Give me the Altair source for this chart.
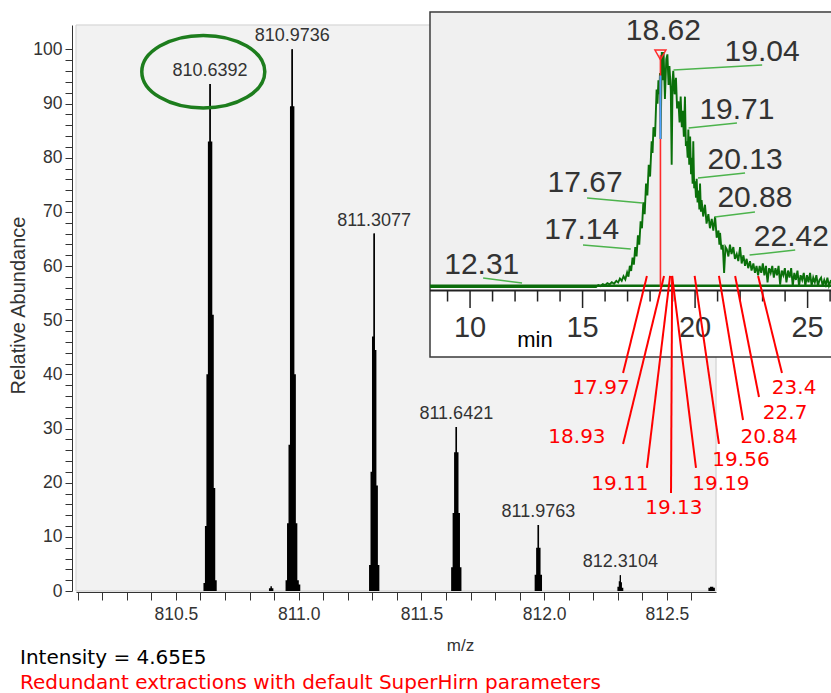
import altair as alt
import pandas as pd

# ---------------- main spectrum data ----------------
peak_mz = [810.6392, 810.9736, 811.3077, 811.6421, 811.9763, 812.3104]
peak_abundance = [93.6, 100.0, 66.0, 30.3, 12.2, 2.9]
peak_labels = ["810.6392", "810.9736", "811.3077", "811.6421", "811.9763", "812.3104"]

prof1_mz = [810.6092, 810.6152, 810.6212, 810.6272, 810.6332, 810.6392, 810.6452, 810.6512, 810.6572, 810.6632, 810.6692]
prof1_ab = [0, 1.5, 12.0, 40.0, 83.0, 93.6, 83.0, 51.0, 19.0, 2.0, 0]
prof2_mz = [810.9436, 810.9496, 810.9556, 810.9616, 810.9676, 810.9736, 810.9796, 810.9856, 810.9916, 810.9976, 811.0036, 811.0096]
prof2_ab = [0, 2.0, 12.5, 27.0, 89.5, 100.0, 89.5, 40.0, 12.5, 2.0, 1.2, 0]
prof3_mz = [811.2837, 811.2897, 811.2957, 811.3017, 811.3077, 811.3137, 811.3197, 811.3257, 811.3317]
prof3_ab = [0, 4.8, 22.0, 47.0, 66.0, 44.5, 19.5, 4.8, 0]
prof4_mz = [811.6181, 811.6241, 811.6301, 811.6361, 811.6421, 811.6481, 811.6541, 811.6601, 811.6661]
prof4_ab = [0, 4.4, 14.4, 25.6, 30.3, 25.6, 14.4, 4.4, 0]
prof5_mz = [811.9583, 811.9643, 811.9703, 811.9763, 811.9823, 811.9883, 811.9943]
prof5_ab = [0, 3.0, 8.0, 12.2, 8.0, 3.0, 0]
prof6_mz = [812.2954, 812.3014, 812.3064, 812.3104, 812.3144, 812.3194, 812.3254]
prof6_ab = [0, 0.8, 1.8, 2.9, 1.6, 0.6, 0]
prof7_mz = [810.876, 810.882, 810.888, 810.894, 810.900]
prof7_ab = [0, 0.5, 0.9, 0.5, 0]
prof8_mz = [812.666, 812.672, 812.679, 812.686, 812.692, 812.699]
prof8_ab = [0, 0.6, 0.8, 0.8, 0.6, 0]

x_tick_values = [810.1, 810.2, 810.3, 810.4, 810.5, 810.6, 810.7, 810.8, 810.9, 811.0,
                 811.1, 811.2, 811.3, 811.4, 811.5, 811.6, 811.7, 811.8, 811.9, 812.0,
                 812.1, 812.2, 812.3, 812.4, 812.5, 812.6]
y_tick_values = list(range(0, 101, 2))

# ---------------- inset chromatogram data ----------------
trace_rt = [8.22, 15.60, 15.70, 15.80, 15.90, 16.00, 16.10, 16.20, 16.30, 16.40, 16.50, 16.58, 16.66, 16.74,
            16.82, 16.90, 16.98, 17.04, 17.10, 17.16, 17.22, 17.28, 17.34, 17.40, 17.46, 17.52, 17.58,
            17.64, 17.70, 17.76, 17.82, 17.88, 17.94, 18.00, 18.07, 18.11, 18.15, 18.22, 18.29, 18.33,
            18.37, 18.41, 18.44, 18.47, 18.52, 18.56, 18.60, 18.66, 18.72, 18.77, 18.82, 18.86, 18.92,
            18.96, 19.00, 19.03, 19.09, 19.15, 19.20, 19.26, 19.31, 19.36, 19.41, 19.45, 19.50, 19.55,
            19.59, 19.63, 19.67, 19.70, 19.74, 19.78, 19.82, 19.85, 19.89, 19.92, 19.96, 20.00, 20.04,
            20.07, 20.11, 20.15, 20.19, 20.22, 20.26, 20.29, 20.36, 20.44, 20.51, 20.59, 20.66, 20.74,
            20.81, 20.89, 20.96, 21.04, 21.08, 21.11, 21.17, 21.23, 21.29, 21.35, 21.41, 21.48, 21.55,
            21.62, 21.70, 21.77, 21.85, 21.92, 22.00, 22.07, 22.15, 22.22, 22.29, 22.36, 22.44, 22.51,
            22.59, 22.66, 22.73, 22.80, 22.87, 22.94, 23.01, 23.08, 23.15, 23.22, 23.29, 23.36, 23.43,
            23.50, 23.57, 23.64, 23.71, 23.78, 23.85, 23.92, 23.99, 24.06, 24.13, 24.20, 24.27, 24.34,
            24.41, 24.48, 24.55, 24.62, 24.69, 24.76, 24.83, 24.90, 24.97, 25.04, 25.11, 25.18, 25.25,
            25.32, 25.39, 25.46, 25.53, 25.60, 25.67, 25.74, 25.81, 25.88, 25.95, 26.04]
trace_int = [0, 0, 0.8, 0.4, 1.2, 0.8, 1.6, 1.1, 2.0, 1.4, 2.6, 1.9, 3.6, 2.6,
             4.6, 3.2, 6.2, 4.4, 9.0, 6.8, 12.5, 9.5, 17, 13, 22, 18, 28,
             25, 36, 31, 44, 39, 52, 47, 62, 57, 68, 64, 84, 78,
             88, 82, 91, 63, 100, 88, 100, 80, 97, 99, 86, 94, 84,
             52, 88, 92, 82, 89, 76, 79, 70, 81, 68, 75, 64, 81,
             60, 62, 55, 67, 52, 64, 48, 55, 44, 62, 42, 45, 38,
             46, 36, 41, 33, 44, 32, 37, 30, 35, 27, 31, 25, 29,
             24, 30, 21, 24, 18, 23, 16, 18, 6, 17, 16, 13, 18,
             14, 17, 12, 14, 11, 17, 10, 13.5, 9, 12, 8, 11, 7,
             10, 6, 9, 5, 9, 6, 10, 5, 9, 2, 8, 6, 9,
             4, 8, 5, 9, 1, 7, 5, 8, 2, 7, 4, 8, 0.5,
             6, 3, 7, 0.5, 5, 3, 6, 0.5, 5, 2, 6, 0.5, 4,
             2, 5, 0.5, 3, 4, 0.5, 3, 1, 4, 0.5, 3]

# labelled retention times in the inset (value, touch level, leader far end, text centre)
inset_labels = ["12.31", "17.14", "17.67", "19.04", "19.71", "20.13", "20.88", "22.42"]
inset_label_rt = [12.31, 17.14, 17.67, 19.04, 19.71, 20.13, 20.88, 22.42]
inset_label_level = [1.7, 16.2, 35.7, 92.3, 67.7, 46.4, 29.8, 13.6]
leader_end_rt = [10.58, 15.02, 15.20, 22.98, 21.86, 22.22, 22.66, 24.45]
leader_end_level = [3.8, 17.9, 37.9, 94.5, 69.8, 48.5, 31.9, 15.7]
label_text_rt = [10.52, 14.96, 15.11, 22.98, 21.86, 22.22, 22.66, 24.28]
label_text_level = [9.4, 24.3, 44.3, 100.0, 75.3, 54.0, 37.9, 21.3]

apex_label = "18.62"
apex_rt = 18.46
apex_level = 98.8

# red annotations (redundant extractions)
red_labels = ["17.97", "18.93", "19.11", "19.13", "19.19", "19.56", "20.84", "22.7", "23.4"]
red_top_rt = [17.86, 18.62, 18.89, 18.98, 18.98, 19.98, 21.06, 21.78, 22.80]
red_end_rt = [16.80, 16.80, 17.86, 18.93, 20.04, 21.06, 22.13, 22.84, 23.86]
red_end_level = [-36.6, -66.8, -77.0, -87.7, -77.0, -66.8, -56.6, -46.8, -36.6]
red_text_rt = [15.82, 14.75, 16.66, 19.06, 21.15, 22.04, 23.29, 24.00, 24.40]
red_text_level = [-43.0, -63.8, -83.8, -94.0, -83.8, -73.6, -63.8, -53.6, -43.0]

inset_minor_ticks = [9, 11, 12, 13, 14, 16, 17, 18, 19, 21, 22, 23, 24, 26]
inset_major_ticks = [10, 15, 20, 25]

# ---------------- frames ----------------
profiles = [(prof1_mz, prof1_ab), (prof2_mz, prof2_ab), (prof3_mz, prof3_ab), (prof4_mz, prof4_ab),
            (prof5_mz, prof5_ab), (prof6_mz, prof6_ab), (prof7_mz, prof7_ab), (prof8_mz, prof8_ab)]
rows = []
for pid, (mzs, abds) in enumerate(profiles):
    for m, a in zip(mzs, abds):
        rows.append({"peak": pid, "mz": m, "ab": a})
profile_df = pd.DataFrame(rows)
peaks_df = pd.DataFrame({"mz": peak_mz, "ab": peak_abundance, "label": peak_labels,
                         "base": [0] * len(peak_mz)})
one = pd.DataFrame({"k": [0]})

trace_df = pd.DataFrame({"rt": trace_rt, "I": trace_int})
ilab_df = pd.DataFrame({"label": inset_labels, "rt": inset_label_rt, "lvl": inset_label_level,
                        "ert": leader_end_rt, "elvl": leader_end_level,
                        "trt": label_text_rt, "tlvl": label_text_level})
red_df = pd.DataFrame({"label": red_labels, "top": red_top_rt, "toplvl": [4.7] * len(red_labels),
                       "ert": red_end_rt, "elvl": red_end_level,
                       "trt": red_text_rt, "tlvl": red_text_level})
apex_df = pd.DataFrame({"rt": [apex_rt], "lvl": [apex_level], "base": [0.0],
                        "blue_lo": [63.0], "blue_hi": [90.0], "label": [apex_label],
                        "trt": [18.59], "tlvl": [109.0]})
base_df = pd.DataFrame({"x0": [8.22], "x1": [26.04], "lvl": [0.5]})
minor_df = pd.DataFrame({"t": inset_minor_ticks})
major_df = pd.DataFrame({"t": inset_major_ticks, "label": [str(v) for v in inset_major_ticks]})

# ---------------- scales / axes ----------------
FONT = "Liberation Sans"
xs_main = alt.Scale(domain=[810.093, 812.70], nice=False, zero=False)
ys_main = alt.Scale(domain=[0, 104.5], nice=False)

xaxis = alt.Axis(values=x_tick_values, labelExpr="(round(datum.value*10) % 5 == 0) ? format(datum.value, '.1f') : ''",
                 tickSize=8, labelPadding=5, labelFontSize=17.5, labelFont=FONT, labelColor="#333",
                 domainColor="#333", tickColor="#333", grid=False, offset=1, labelOverlap=False,
                 labelFlush=False, titleX=384, titleY=53, titleFontSize=17, titleFontWeight="normal",
                 titleFont=FONT, titleColor="#333", titleBaseline="middle", titleAlign="center")
yaxis = alt.Axis(values=y_tick_values, labelExpr="datum.value % 10 == 0 ? datum.label : ''",
                 tickSize=7, labelPadding=3, labelFontSize=17.5, labelFont=FONT, labelColor="#333",
                 domainColor="#333", tickColor="#333", grid=False, offset=4, labelOverlap=False,
                 titleX=-54, titleY=280, titleAngle=-90, titleFontSize=20, titleFontWeight="normal",
                 titleFont=FONT, titleColor="#333", titleBaseline="middle", titleAlign="center")


def XM(f):
    return alt.X(f, type="quantitative", scale=xs_main, axis=xaxis, title="m/z")


def YM(f):
    return alt.Y(f, type="quantitative", scale=ys_main, axis=yaxis, title="Relative Abundance")


xs_in = alt.Scale(domain=[8.22, 26.04], range=[354, 755], nice=False, zero=False)
ys_in = alt.Scale(domain=[0, 100], range=[262, 27], nice=False, zero=False)


def XI(f):
    return alt.X(f, type="quantitative", scale=xs_in, axis=None)


def YI(f):
    return alt.Y(f, type="quantitative", scale=ys_in, axis=None)


# ---------------- main layers ----------------
border = alt.Chart(one).mark_rect(fill="transparent", stroke="#cccccc", strokeWidth=1).encode(
    x=alt.value(0), x2=alt.value(640), y=alt.value(0), y2=alt.value(566))
area = alt.Chart(profile_df).mark_area(color="black", interpolate="step").encode(
    x=XM("mz"), y=YM("ab"), detail="peak:N")
sticks = alt.Chart(peaks_df).mark_rule(color="black", strokeWidth=1.2).encode(
    x=XM("mz"), y=YM("base"), y2="ab")
plabels = alt.Chart(peaks_df).mark_text(font=FONT, fontSize=18, color="#333", baseline="alphabetic",
                                        dy=-8, align="center").encode(x=XM("mz"), y=YM("ab"), text="label")
ELLIPSE = ("M -1 0 C -1 -0.326 -0.552 -0.59 0 -0.59 C 0.552 -0.59 1 -0.326 1 0 "
           "C 1 0.326 0.552 0.59 0 0.59 C -0.552 0.59 -1 0.326 -1 0 Z")
ellipse = alt.Chart(one).mark_point(shape=ELLIPSE, size=123 * 123, filled=False, color="#1d7d1d",
                                    strokeWidth=3.5, opacity=1).encode(x=alt.value(127.3), y=alt.value(46.7))
cap1 = alt.Chart(one).mark_text(align="left", baseline="middle", font="DejaVu Sans", fontSize=20,
                                color="black", text="Intensity = 4.65E5").encode(x=alt.value(-56), y=alt.value(633))
cap2 = alt.Chart(one).mark_text(align="left", baseline="middle", font="DejaVu Sans", fontSize=20,
                                color="red", text="Redundant extractions with default SuperHirn parameters"
                                ).encode(x=alt.value(-56), y=alt.value(658))

main = alt.layer(border, area, sticks, plabels, ellipse, cap1, cap2)

# ---------------- inset layers ----------------
frame = alt.Chart(one).mark_rect(fill="white", stroke="#3a3a3a", strokeWidth=1.5).encode(
    x=alt.value(354), x2=alt.value(775), y=alt.value(-13), y2=alt.value(332))
plotbg = alt.Chart(one).mark_rect(fill="#f0f0f0").encode(
    x=alt.value(355), x2=alt.value(775), y=alt.value(-12), y2=alt.value(262))
baseline = alt.Chart(base_df).mark_rule(color="#0b6b0b", strokeWidth=2.5).encode(
    x=XI("x0"), x2="x1", y=YI("lvl"))
axisline = alt.Chart(base_df).mark_rule(color="#222", strokeWidth=2).encode(
    x=XI("x0"), x2="x1", y=alt.value(265.5))
minor = alt.Chart(minor_df).mark_rule(color="#222", strokeWidth=1.5).encode(
    x=XI("t"), y=alt.value(265.5), y2=alt.value(276.5))
major = alt.Chart(major_df).mark_rule(color="#222", strokeWidth=1.5).encode(
    x=XI("t"), y=alt.value(265.5), y2=alt.value(283))
majlab = alt.Chart(major_df).mark_text(font=FONT, fontSize=29, color="#333", baseline="middle").encode(
    x=XI("t"), y=alt.value(303), text="label")
minlab = alt.Chart(one).mark_text(font=FONT, fontSize=22, color="black", baseline="middle", text="min").encode(
    x=alt.value(459), y=alt.value(315))
trace = alt.Chart(trace_df).mark_line(color="#0a700a", strokeWidth=1.9).encode(x=XI("rt"), y=YI("I"))
leaders = alt.Chart(ilab_df).mark_rule(color="#4cb34c", strokeWidth=1.5).encode(
    x=XI("rt"), y=YI("lvl"), x2="ert", y2="elvl")
ilabels = alt.Chart(ilab_df).mark_text(font=FONT, fontSize=30, color="#333", baseline="middle").encode(
    x=XI("trt"), y=YI("tlvl"), text="label")
redline = alt.Chart(apex_df).mark_rule(color="#ff2a2a", strokeWidth=1.6).encode(
    x=XI("rt"), y=YI("base"), y2="lvl")
blueline = alt.Chart(apex_df).mark_rule(color="#4da3ff", strokeWidth=2).encode(
    x=XI("rt"), y=YI("blue_lo"), y2="blue_hi")
tri = alt.Chart(apex_df).mark_point(shape="triangle-down", filled=False, color="#ff2a2a", size=120,
                                    strokeWidth=1.5, opacity=1).encode(x=XI("rt"), y=YI("lvl"))
apexlab = alt.Chart(apex_df).mark_text(font=FONT, fontSize=30, color="#333", baseline="middle").encode(
    x=XI("trt"), y=YI("tlvl"), text="label")
redrules = alt.Chart(red_df).mark_rule(color="red", strokeWidth=2).encode(
    x=XI("top"), y=YI("toplvl"), x2="ert", y2="elvl")
redtext = alt.Chart(red_df).mark_text(font="DejaVu Sans", fontSize=20, color="red", baseline="middle").encode(
    x=XI("trt"), y=YI("tlvl"), text="label")

inset = alt.layer(frame, plotbg, trace, baseline, axisline, minor, major, majlab, minlab, leaders,
                  ilabels, redline, blueline, tri, apexlab, redrules, redtext)

chart = alt.layer(main, inset).resolve_scale(x="independent", y="independent").properties(
    width=640, height=566,
    padding={"left": 76, "top": 25, "right": 115, "bottom": 102},
    autosize=alt.AutoSizeParams(type="none"),
    background="white",
).configure_view(fill="#f2f2f2", stroke="transparent")

chart.save("out.html", embed_options={"renderer": "svg", "actions": False})
